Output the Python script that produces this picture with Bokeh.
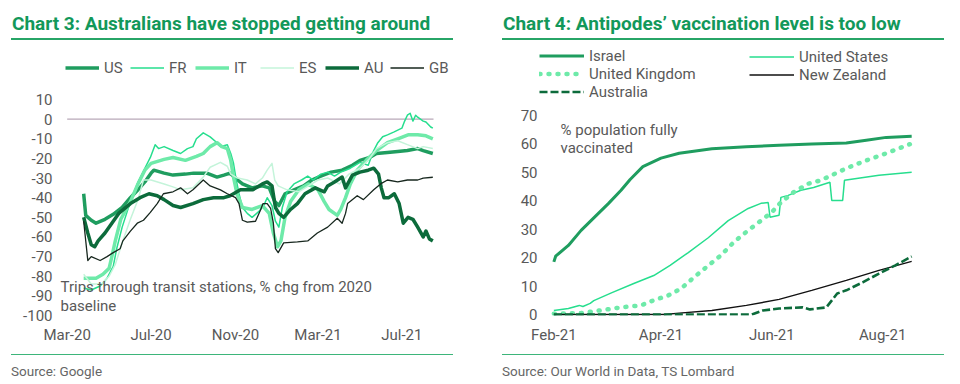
import pandas as pd
from bokeh.plotting import figure
from bokeh.models import (Range1d, FixedTicker, DatetimeTickFormatter, Label,
                          Legend, LegendItem, Div)
from bokeh.layouts import row, column
from bokeh.embed import file_html
from bokeh.resources import INLINE

# ---------------- Chart 3 data (Google mobility, transit stations, % chg) ----------------
us_dates = ["2020-03-25","2020-03-28","2020-04-05","2020-04-12","2020-04-25","2020-05-07","2020-05-20",
            "2020-06-01","2020-06-12","2020-06-22","2020-07-01","2020-07-05","2020-07-20","2020-08-02",
            "2020-08-20","2020-09-01","2020-09-20","2020-10-05","2020-10-15","2020-10-24","2020-11-04",
            "2020-11-11","2020-11-25","2020-12-10","2020-12-20","2020-12-28","2021-01-03","2021-01-12",
            "2021-01-25","2021-02-08","2021-02-20","2021-03-05","2021-03-20","2021-04-05","2021-04-20",
            "2021-05-01","2021-05-15","2021-05-25","2021-06-10","2021-06-25","2021-07-09","2021-07-24",
            "2021-08-01","2021-08-15"]
us_vals = [-38,-49,-51.5,-53,-51,-48.5,-45,-40,-36,-32,-27.5,-26,-27.5,-28.5,-28,-27.5,-27.5,-29.5,
           -28.5,-27.5,-31,-33,-35,-34,-35,-42,-44,-38,-36,-34,-31,-29,-27,-26,-23.5,-21,-19.5,-17.5,
           -17,-16.5,-16,-15,-16,-17.5]

fr_dates = ["2020-03-25","2020-04-05","2020-04-18","2020-04-28","2020-05-07","2020-05-12","2020-05-20",
            "2020-06-01","2020-06-12","2020-06-22","2020-06-30","2020-07-07","2020-07-12","2020-07-20",
            "2020-08-02","2020-08-13","2020-08-23","2020-08-31","2020-09-05","2020-09-15","2020-09-25",
            "2020-10-05","2020-10-10","2020-10-20","2020-10-25","2020-10-29","2020-11-02","2020-11-06",
            "2020-11-11","2020-11-18","2020-11-25","2020-12-05","2020-12-12","2020-12-17","2020-12-24",
            "2020-12-29","2021-01-03","2021-01-08","2021-01-15","2021-01-25","2021-02-05","2021-02-14",
            "2021-02-22","2021-03-05","2021-03-15","2021-03-25","2021-04-03","2021-04-10","2021-04-17",
            "2021-05-01","2021-05-13","2021-05-21","2021-05-27","2021-06-03","2021-06-10","2021-06-19",
            "2021-07-01","2021-07-05","2021-07-09","2021-07-13","2021-07-17","2021-07-21","2021-07-24",
            "2021-08-01","2021-08-05","2021-08-12","2021-08-15"]
fr_vals = [-86,-87,-85,-81,-75,-66,-55,-42,-32,-25,-19.5,-13,-15,-14,-16,-17.5,-15,-14,-10,-7,-9,
           -12,-14,-13,-17.5,-22.5,-31,-38,-45,-48,-50,-47,-44,-40,-44,-52,-55,-45,-37,-33,-31,-29,
           -31,-28,-27,-29,-27,-26,-25,-22,-23.5,-16,-12,-9,-8,-6.6,-4.6,-1,2,3,-1,2,1,-1,-1.5,-4,-4.6]

it_dates = ["2020-03-25","2020-04-12","2020-04-22","2020-05-01","2020-05-05","2020-05-10","2020-05-18",
            "2020-06-01","2020-06-12","2020-06-22","2020-07-01","2020-07-20","2020-08-02","2020-08-20",
            "2020-09-05","2020-09-15","2020-09-25","2020-10-05","2020-10-12","2020-10-20","2020-10-25",
            "2020-10-29","2020-11-03","2020-11-11","2020-11-25","2020-12-10","2020-12-20","2020-12-26",
            "2021-01-01","2021-01-06","2021-01-12","2021-01-20","2021-02-01","2021-02-15","2021-03-01",
            "2021-03-10","2021-03-17","2021-03-29","2021-04-03","2021-04-10","2021-04-17","2021-04-27",
            "2021-05-10","2021-05-25","2021-06-10","2021-06-25","2021-07-10","2021-07-24","2021-08-05",
            "2021-08-15"]
it_vals = [-81,-81,-79,-76,-70,-62,-51,-42,-33,-26,-22.5,-20.5,-19.5,-21,-19,-17.5,-14,-12,-14,-15,
           -21,-29.5,-38,-45,-46,-44,-48,-58,-65,-62,-50,-42,-36,-33,-36,-42,-46,-49,-46,-40,-33,-26,
           -21,-16,-12,-10,-8,-8,-8.5,-10]

es_dates = ["2020-03-25","2020-04-05","2020-04-20","2020-05-01","2020-05-10","2020-05-20","2020-06-01",
            "2020-06-12","2020-06-20","2020-07-01","2020-07-20","2020-08-02","2020-08-13","2020-08-31",
            "2020-09-15","2020-09-25","2020-10-10","2020-10-20","2020-10-25","2020-11-04","2020-11-18",
            "2020-11-30","2020-12-10","2020-12-17","2020-12-24","2020-12-28","2021-01-02","2021-01-15",
            "2021-02-01","2021-02-15","2021-03-01","2021-03-15","2021-04-01","2021-04-15","2021-05-01",
            "2021-05-15","2021-05-25","2021-06-10","2021-06-25","2021-07-09","2021-07-24","2021-08-01",
            "2021-08-15"]
es_vals = [-79,-84,-84,-80,-74,-63,-51,-41,-31,-31,-33,-34.5,-36,-35,-29.5,-24.5,-22,-24,-28,-30,-31,
           -33,-30,-26,-22.5,-31,-34,-36,-37,-34,-31,-30,-33,-28,-25,-20,-15,-12,-11,-13,-15,-14,-15]

au_dates = ["2020-03-25","2020-03-31","2020-04-05","2020-04-10","2020-04-15","2020-04-25","2020-05-05",
            "2020-05-15","2020-06-01","2020-06-15","2020-06-28","2020-07-10","2020-07-20","2020-08-02",
            "2020-08-13","2020-08-31","2020-09-15","2020-09-30","2020-10-15","2020-10-24","2020-11-08",
            "2020-11-26","2020-12-10","2020-12-17","2020-12-24","2020-12-29","2021-01-03","2021-01-10",
            "2021-01-20","2021-01-30","2021-02-10","2021-02-25","2021-03-10","2021-03-15","2021-03-25",
            "2021-04-05","2021-04-10","2021-04-20","2021-05-01","2021-05-13","2021-05-21","2021-05-28",
            "2021-06-01","2021-06-05","2021-06-12","2021-06-20","2021-06-27","2021-07-03","2021-07-10",
            "2021-07-17","2021-07-24","2021-08-01","2021-08-05","2021-08-10","2021-08-15"]
au_vals = [-50,-58,-64,-65,-62,-58,-53,-48,-43,-40,-38,-39,-41,-44,-45,-43,-41,-40,-40,-39,-36,-36,
           -33,-32,-34,-45,-48,-50,-46,-43,-38,-35,-37,-34,-32,-29.5,-35,-28.5,-27,-26,-25,-28,-35,
           -40,-40,-38,-43,-53,-50,-51,-55,-60,-57,-61,-62]

gb_dates = ["2020-03-25","2020-03-31","2020-04-05","2020-04-18","2020-04-28","2020-05-07","2020-05-17",
            "2020-05-21","2020-06-01","2020-06-11","2020-06-20","2020-06-30","2020-07-10","2020-07-19",
            "2020-08-02","2020-08-13","2020-08-23","2020-08-31","2020-09-15","2020-09-25","2020-10-10",
            "2020-10-20","2020-11-01","2020-11-06","2020-11-11","2020-11-18","2020-11-30","2020-12-07",
            "2020-12-11","2020-12-17","2020-12-22","2020-12-26","2020-12-29","2021-01-02","2021-01-10",
            "2021-01-30","2021-02-14","2021-02-28","2021-03-15","2021-03-29","2021-04-05","2021-04-10",
            "2021-04-13","2021-04-27","2021-05-06","2021-05-21","2021-05-31","2021-06-10","2021-06-25",
            "2021-07-09","2021-07-24","2021-08-01","2021-08-15"]
gb_vals = [-52,-72,-70,-72,-70,-68,-66,-62,-57,-53,-51.5,-47.5,-43,-38,-37,-35,-38,-36,-31,-34,-36,
           -38,-40,-43,-51.5,-52.5,-52,-46.5,-43,-43,-45.5,-53,-66,-68,-63,-62.5,-62,-58,-55,-50.5,-53,
           -48,-43,-39,-41,-36,-33,-31,-32,-31,-31,-30,-29.6]

zero_dates = ["2020-03-01", "2021-08-16"]
zero_vals = [0, 0]

c3_yticks = [10, 0, -10, -20, -30, -40, -50, -60, -70, -80, -90, -100]
c3_xticks = ["2020-03-01", "2020-07-01", "2020-11-01", "2021-03-01", "2021-07-01"]

# ---------------- Chart 4 data (% population fully vaccinated) ----------------
isr_dates = ["2021-02-01","2021-02-02","2021-02-09","2021-02-16","2021-02-23","2021-03-03","2021-03-10",
             "2021-03-15","2021-03-22","2021-04-01","2021-04-11","2021-04-29","2021-05-18","2021-06-05",
             "2021-06-23","2021-07-12","2021-07-23","2021-08-03","2021-08-17"]
isr_vals = [18.5,20.5,24.3,29.6,34,39,43.7,47.5,52,55,56.7,58.3,59,59.5,60,60.3,61.3,62.3,62.7]

usa_dates = ["2021-02-01","2021-02-09","2021-02-15","2021-02-17","2021-02-21","2021-02-23","2021-03-05",
             "2021-03-17","2021-03-28","2021-04-06","2021-04-16","2021-04-27","2021-05-08","2021-05-19",
             "2021-05-26","2021-05-30","2021-05-31","2021-06-05","2021-06-06","2021-06-10","2021-06-17",
             "2021-06-24","2021-07-03","2021-07-04","2021-07-10","2021-07-11","2021-07-30","2021-08-17"]
usa_vals = [1.4,2.1,3.2,2.8,3.9,4.9,7.7,10.9,13.7,17.3,21.8,27,33,37.3,39.1,39.4,34.2,34.9,41.2,41.9,
            43.7,44.7,46.5,40.1,40.1,47.2,49,50]

uk_dates = ["2021-02-01","2021-02-16","2021-03-10","2021-03-21","2021-03-28","2021-04-05","2021-04-12",
            "2021-04-19","2021-04-27","2021-05-04","2021-05-11","2021-05-19","2021-05-26","2021-06-01",
            "2021-06-06","2021-06-13","2021-06-21","2021-06-28","2021-07-12","2021-07-23","2021-08-03",
            "2021-08-16"]
uk_vals = [0.3,0.5,2.5,3.2,5,6.7,9.1,13,17.2,20.8,25.4,29.6,33,36,39.4,43,46,47.2,51.4,54.2,56.7,59.9]

nz_dates = ["2021-02-01","2021-04-03","2021-04-11","2021-04-29","2021-05-18","2021-06-05","2021-06-23",
            "2021-07-12","2021-07-30","2021-08-17"]
nz_vals = [0,0,0.5,1.4,3.2,5.3,8.5,12,15.5,18.7]

aus_dates = ["2021-02-01","2021-05-21","2021-05-27","2021-06-05","2021-06-18","2021-06-22","2021-07-01",
             "2021-07-07","2021-07-12","2021-07-21","2021-07-30","2021-08-08","2021-08-17"]
aus_vals = [0,0,1.4,2.1,2.5,1.8,2.5,7.4,8.5,11.3,14.4,17.3,20.4]

c4_yticks = [0, 10, 20, 30, 40, 50, 60, 70]
c4_xticks = ["2021-02-01", "2021-04-01", "2021-06-01", "2021-08-01"]

# ---------------- styling ----------------
FONT = "Roboto"
GREY = "#595959"
TITLE_GREEN = "#12985a"
RULE_GREEN = "#27a567"
RULE_GREEN2 = "#3db57a"
C_US = "#1f9d5f"
C_FR = "#26de8e"
C_IT = "#6eeaa9"
C_ES = "#c4f4da"
C_AU = "#0c6b3b"
C_GB = "#17271e"


def ts(s):
    return pd.Timestamp(s)


def ms(s):
    return pd.Timestamp(s).value / 1e6


def style_axes(p, xticks, yticks, xstand, ystand):
    p.xaxis.ticker = FixedTicker(ticks=[ms(t) for t in xticks])
    p.xaxis.formatter = DatetimeTickFormatter(
        microseconds="%b-%y", milliseconds="%b-%y", seconds="%b-%y", minsec="%b-%y",
        minutes="%b-%y", hourmin="%b-%y", hours="%b-%y", days="%b-%y", months="%b-%y",
        years="%b-%y")
    p.yaxis.ticker = FixedTicker(ticks=yticks)
    p.yaxis.major_label_overrides = {v: str(v) for v in yticks}
    for ax in (p.xaxis[0], p.yaxis[0]):
        ax.axis_line_color = None
        ax.major_tick_line_color = None
        ax.minor_tick_line_color = None
        ax.major_tick_out = 0
        ax.major_tick_in = 0
        ax.minor_tick_out = 0
        ax.major_label_text_font = FONT
        ax.major_label_text_font_size = "15px"
        ax.major_label_text_color = GREY
    p.xaxis.major_label_standoff = xstand
    p.yaxis.major_label_standoff = ystand
    p.grid.visible = False
    p.outline_line_color = None
    p.background_fill_color = "white"
    p.border_fill_color = "white"


def text(p, s, sx, sy, size="15px", color=GREY):
    p.add_layout(Label(x=sx, y=sy, x_units="screen", y_units="screen", text=s,
                       text_font=FONT, text_font_size=size, text_color=color,
                       text_baseline="alphabetic", text_align="left"))


def legend(items, loc, orient, glyph_w, spacing):
    return Legend(items=items, orientation=orient, location=loc, glyph_width=glyph_w,
                  glyph_height=17, label_height=17, label_standoff=5, spacing=spacing,
                  padding=0, margin=0, border_line_color=None, background_fill_alpha=0,
                  label_text_font=FONT, label_text_font_size="15px", label_text_color=GREY)


def title_div(title, width, left):
    html = (f'<div style="position:relative;width:{width}px;height:46px;">'
            f'<div style="position:absolute;left:{left + 1}px;top:13.5px;white-space:nowrap;'
            f'font-family:Roboto;font-weight:bold;font-size:19px;line-height:19px;color:{TITLE_GREEN};">'
            f'{title}</div>'
            f'<div style="position:absolute;left:{left}px;top:38px;width:442px;height:2px;'
            f'background:{RULE_GREEN};"></div></div>')
    return Div(text=html, width=width, height=46, margin=0)


def source_div(src, width, left):
    html = (f'<div style="position:relative;width:{width}px;height:39px;">'
            f'<div style="position:absolute;left:{left}px;top:8px;width:442px;height:1px;'
            f'background:{RULE_GREEN2};"></div>'
            f'<div style="position:absolute;left:{left}px;top:18.6px;white-space:nowrap;'
            f'font-family:Roboto;font-size:13.5px;line-height:13.5px;color:#666666;">{src}</div></div>')
    return Div(text=html, width=width, height=39, margin=0)


# ---------------- Chart 3 ----------------
p1 = figure(x_axis_type="datetime", frame_width=400, frame_height=267,
            min_border_left=55, min_border_right=17, min_border_top=2, min_border_bottom=30,
            x_range=Range1d(ts("2020-02-13"), ts("2021-09-17")), y_range=Range1d(-100, 35.97),
            output_backend="svg", toolbar_location=None)
style_axes(p1, c3_xticks, c3_yticks, 10, 3)
p1.line(pd.to_datetime(zero_dates), zero_vals, line_color="#b8a8b8", line_width=1.2)

r_us = p1.line(pd.to_datetime(us_dates), us_vals, line_color=C_US, line_width=3.5, line_join="round")
r_fr = p1.line(pd.to_datetime(fr_dates), fr_vals, line_color=C_FR, line_width=1.5, line_join="round")
r_it = p1.line(pd.to_datetime(it_dates), it_vals, line_color=C_IT, line_width=3.5, line_join="round")
r_es = p1.line(pd.to_datetime(es_dates), es_vals, line_color=C_ES, line_width=1.5, line_join="round")
r_au = p1.line(pd.to_datetime(au_dates), au_vals, line_color=C_AU, line_width=3.5, line_join="round")
r_gb = p1.line(pd.to_datetime(gb_dates), gb_vals, line_color=C_GB, line_width=1.3, line_join="round")

p1.add_layout(legend([LegendItem(label="US", renderers=[r_us]), LegendItem(label="FR", renderers=[r_fr]),
                      LegendItem(label="IT", renderers=[r_it]), LegendItem(label="ES", renderers=[r_es]),
                      LegendItem(label="AU", renderers=[r_au]), LegendItem(label="GB", renderers=[r_gb])],
                     (10, 238.5), "horizontal", 34, 6))

text(p1, "Trips through transit stations, % chg from 2020", 5, 28.3)
text(p1, "baseline", 5, 10)

# ---------------- Chart 4 ----------------
p2 = figure(x_axis_type="datetime", frame_width=376, frame_height=267,
            min_border_left=65, min_border_right=40, min_border_top=2, min_border_bottom=30,
            x_range=Range1d(ts("2021-01-23"), ts("2021-08-18")), y_range=Range1d(-0.35, 93.56),
            output_backend="svg", toolbar_location=None)
style_axes(p2, c4_xticks, c4_yticks, 10, 0)

r_isr = p2.line(pd.to_datetime(isr_dates), isr_vals, line_color=C_US, line_width=3, line_join="round")
r_usa = p2.line(pd.to_datetime(usa_dates), usa_vals, line_color=C_FR, line_width=1.5)
r_uk = p2.line(pd.to_datetime(uk_dates), uk_vals, line_color=C_IT, line_width=4.5,
               line_dash="1 8", line_cap="round")
r_nz = p2.line(pd.to_datetime(nz_dates), nz_vals, line_color="#111111", line_width=1.4)
r_aus = p2.line(pd.to_datetime(aus_dates), aus_vals, line_color=C_AU, line_width=2.6, line_dash="8 3")

p2.add_layout(legend([LegendItem(label="Israel", renderers=[r_isr]),
                      LegendItem(label="United Kingdom", renderers=[r_uk]),
                      LegendItem(label="Australia", renderers=[r_aus])],
                     (2, 214.5), "vertical", 45, 0))
p2.add_layout(legend([LegendItem(label="United States", renderers=[r_usa]),
                      LegendItem(label="New Zealand", renderers=[r_nz])],
                     (212, 231.5), "vertical", 45, 0))

text(p2, "% population fully", 23, 186)
text(p2, "vaccinated", 23, 168)

left = column(title_div("Chart 3: Australians have stopped getting around", 472, 11), p1,
              source_div("Source: Google", 472, 11), spacing=0)
right = column(title_div("Chart 4: Antipodes\u2019 vaccination level is too low", 481, 30), p2,
               source_div("Source: Our World in Data, TS Lombard", 481, 30), spacing=0)
layout = row(left, right, spacing=0)
open("out.html", "w").write(file_html(layout, INLINE))
